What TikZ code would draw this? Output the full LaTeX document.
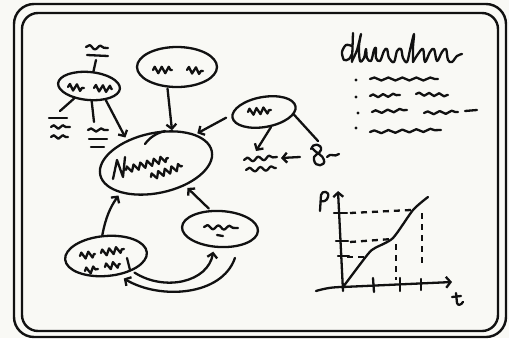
\documentclass[tikz,border=0pt]{standalone}
\usetikzlibrary{shapes.geometric,arrows.meta,decorations.pathmorphing}
\definecolor{paper}{HTML}{F9F9F5}
\definecolor{inkc}{HTML}{111111}
\begin{document}
\begin{tikzpicture}[x=1pt,y=-1pt,
  ink/.style={line width=2.3pt,line cap=round,line join=round,draw=inkc},
  blob/.style={ink,ellipse,inner sep=0pt},
  arr/.style={ink,-{Straight Barb[length=4.5pt,width=10pt]}},
  wave/.style={ink,decorate,decoration={snake,amplitude=1.5pt,segment length=14pt}},
  zz/.style={ink,decorate,decoration={zigzag,amplitude=3.2pt,segment length=7pt}},
  dashln/.style={ink,dash pattern=on 6pt off 5pt,line cap=butt},
  dotb/.style={fill=inkc}]
\useasboundingbox (0,0) rectangle (509,338);
\fill[paper] (0,0) rectangle (509,338);
% frame
\draw[ink,line width=2.4pt,rounded corners=20pt] (14,4) rectangle (506,337);
\draw[ink,line width=2.4pt,rounded corners=16pt] (22,13) rectangle (498,331);

% nodes
\node[blob,minimum width=62pt,minimum height=28pt,rotate=-5] (e1) at (89,86) {};
\node[blob,minimum width=80pt,minimum height=40pt] (e2) at (177,67) {};
\node[blob,minimum width=114pt,minimum height=60pt,rotate=12] (m) at (156,163) {};
\node[blob,minimum width=64pt,minimum height=30pt,rotate=10] (e3) at (264,112) {};
\node[blob,minimum width=82pt,minimum height=40pt,rotate=5] (e4) at (106,256) {};
\node[blob,minimum width=76pt,minimum height=36pt,rotate=-3] (e5) at (220,229) {};

\coordinate (c1) at (96,60);
\coordinate (c2) at (60,111);
\coordinate (c3) at (94,122);
\coordinate (w1) at (256,151);
\coordinate (g1) at (318,141);
\coordinate (g2) at (300,157);
\coordinate (w2) at (281,158);

% scribbles in nodes
\draw[zz] (68,87) -- (84,88);
\draw[zz] (94,88) -- (112,89);
\draw[zz] (153,70) -- (172,70);
\draw[zz] (187,70) -- (203,71);
\draw[zz] (248,112) -- (271,110);
\draw[ink] (113,179) -- (117,160) -- (123,177) -- (125,157);
\draw[zz] (126,170) -- (168,158);
\draw[zz] (151,177) -- (182,166);
\draw[ink] (145,144) .. controls (150,137) and (157,133) .. (165,131);
\draw[zz] (80,256) -- (95,254);
\draw[zz] (101,253) -- (124,249);
\draw[zz] (85,271) -- (98,269);
\draw[zz] (105,267) -- (120,264);
\draw[ink] (127,258) -- (130,270);
\draw[wave,decoration={segment length=11pt,amplitude=2pt}] (204,227) -- (238,228);
\draw[ink] (217,235) -- (223,236);

% outer scribbles
\draw[wave,decoration={segment length=11pt,amplitude=2pt}] (86,47) -- (108,48);
\draw[ink] (87,55) -- (108,56);
\draw[ink] (49,118) -- (67,118);
\draw[wave,decoration={segment length=9pt,amplitude=1.8pt}] (51,127) -- (70,127);
\draw[wave,decoration={segment length=9pt,amplitude=1.8pt}] (51,137) -- (68,137);
\draw[wave,decoration={segment length=10pt,amplitude=1.6pt}] (88,130) -- (108,130);
\draw[ink] (89,139) -- (107,139);
\draw[ink] (91,147) -- (104,147);
\draw[wave,decoration={segment length=11pt,amplitude=2pt}] (244,160) -- (277,157);
\draw[wave,decoration={segment length=11pt,amplitude=2pt}] (246,170) -- (276,168);
\draw[ink] (311,149) .. controls (312,143) and (322,143) .. (321,150) .. controls (320,154) and (312,155) .. (314,160) .. controls (315,168) and (326,166) .. (324,160) .. controls (323,155) and (316,153) .. (313,149);
\draw[ink] (327,157) .. controls (331,152) and (334,158) .. (339,154);

% connectors
\draw[ink] (e1.78) -- (c1);
\draw[ink] (e1.225) -- (c2);
\draw[ink] (e1.-75) -- (c3);
\draw[arr,shorten >=3pt] (e1.-35) -- (m.130);
\draw[arr,shorten <=1pt] (e2.-115) -- (m.52);
\draw[arr,shorten <=6pt,shorten >=2pt] (e3.175) -- (m.24);
\draw[arr] (e3.-75) -- (w1);
\draw[ink] (e3.-15) -- (g1);
\draw[arr] (g2) -- (w2);
\draw[arr,shorten >=3pt] (e4.95) to[bend left=12] (m.208);
\draw[arr,shorten <=2pt,shorten >=3pt] (e5.120) -- (m.-50);
\draw[arr,shorten <=3pt,shorten >=4pt] (e4.-35) .. controls (165,292) and (208,282) .. (e5.-105);
\draw[arr,shorten <=12pt,shorten >=6pt] (e5.-40) .. controls (222,296) and (160,300) .. (e4.-62);

% title and list
\draw[ink] plot[smooth] coordinates {(352,46) (346,45) (342,52) (344,60) (349,59) (352,54)};
\draw[ink] (353,33) -- (352,62);
\draw[ink] plot[smooth,tension=0.6] coordinates {(352,61) (357,50) (361,34) (359,46) (360,61) (364,58) (366,49) (367,58) (371,61) (374,50) (376,48) (376,58) (380,61) (384,51) (387,49) (389,58) (394,62) (397,51) (401,49) (403,58) (407,62) (410,50) (414,34) (413,47) (413,62)};
\draw[ink] plot[smooth,tension=0.6] coordinates {(413,62) (418,54) (423,49) (425,62) (430,52) (434,49) (437,61) (442,52) (446,49) (448,60) (452,62) (457,56) (462,54)};
\fill[dotb] (356,80) circle (1.7pt);
\fill[dotb] (356,97) circle (1.7pt);
\fill[dotb] (358,113) circle (1.7pt);
\fill[dotb] (356,128) circle (1.7pt);
\draw[wave] (370,79) -- (438,79);
\draw[wave,decoration={segment length=10pt}] (370,96) -- (400,95);
\draw[wave,decoration={segment length=10pt}] (416,94) -- (448,95);
\draw[wave,decoration={segment length=12pt}] (372,112) -- (407,110);
\draw[wave,decoration={segment length=12pt}] (424,113) -- (458,112);
\draw[ink] (465,111) -- (477,110);
\draw[wave] (370,132) -- (441,130);

% chart
\draw[ink,-{Straight Barb[length=4.5pt,width=10pt]}] (343,291) -- (338,191);
\draw[ink,-{Straight Barb[length=4.5pt,width=11pt]}] (316,291) .. controls (326,288) and (334,287) .. (343,287) -- (452,282);
\draw[ink] (334,213) -- (347,213);
\draw[ink] (336,241) -- (348,241);
\draw[ink] (338,256) -- (349,256);
\draw[ink] (373,278) -- (374,292);
\draw[ink] (400,278) -- (400,291);
\draw[ink] (421,279) -- (421,290);
\draw[ink] plot[smooth,tension=0.4] coordinates {(343,287) (368,254) (375,248) (393,238) (413,210) (428,197)};
\draw[dashln] (350,213) -- (411,210);
\draw[dashln] (422,213) -- (422,266);
\draw[dashln] (350,242) -- (392,239);
\draw[dashln] (396,244) -- (396,280);
\draw[dashln] (347,257) -- (367,257);
\draw[ink] (320,211) -- (321,195) .. controls (322,190) and (330,191) .. (328,197) .. controls (327,201) and (323,202) .. (321,201);
\draw[ink] (456,293) -- (457,303) .. controls (458,306) and (461,305) .. (463,302);
\draw[ink] (452,297) -- (461,296);
\end{tikzpicture}
\end{document}
